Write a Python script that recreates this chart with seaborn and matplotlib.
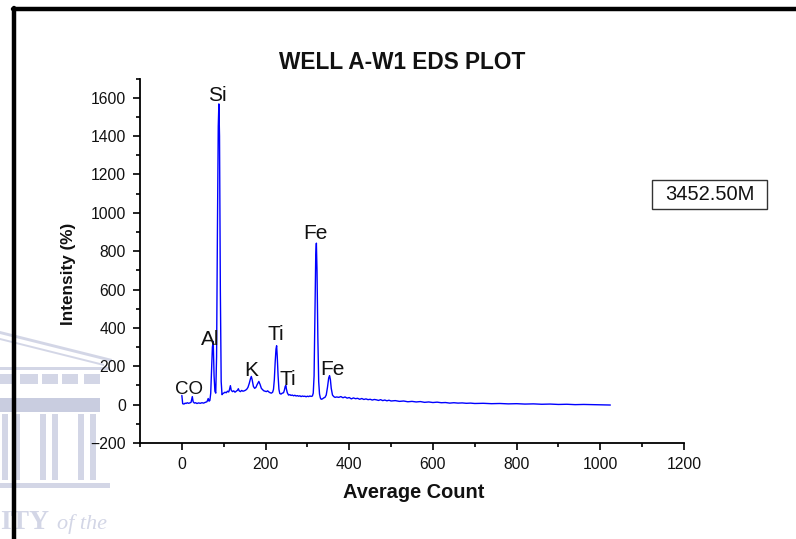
import numpy as np
import pandas as pd
import seaborn as sns
import matplotlib.pyplot as plt
from matplotlib.lines import Line2D
from matplotlib.patches import Rectangle, Polygon
from matplotlib.ticker import MultipleLocator

# EDS spectrum: channel (average count) vs intensity
channel = [
    0, 2, 5, 8, 10, 13, 16, 19, 22, 25, 27, 30, 33, 36, 40, 44, 48, 52, 56, 60,
    63, 65, 67, 69, 71, 73, 75, 77, 79, 81, 83, 85, 87, 88.5, 90, 92, 94, 96, 98, 100,
    103, 106, 109, 112, 114, 116, 118, 121, 124, 127, 130, 133, 135, 137, 140, 143, 146, 149, 152, 155,
    158, 161, 164, 166, 168, 171, 174, 177, 180, 184, 187, 190, 193, 196, 199, 202, 205, 208, 211, 214,
    217, 219, 221, 223, 225, 226.5, 228, 230, 232, 234, 237, 240, 243, 245, 247, 248.5, 250, 252, 255, 258,
    261, 264, 267, 270, 273, 276, 279, 282, 285, 288, 291, 294, 297, 300, 303, 306, 309, 312, 314, 316,
    318, 320, 321.5, 323, 325, 327, 329, 331, 333, 336, 339, 342, 345, 348, 351, 353, 355, 357, 360, 363,
    366, 370, 375, 380, 385, 390, 395, 400, 405, 410, 415, 420, 425, 430, 435, 440, 445, 450, 455, 460,
    465, 470, 475, 480, 485, 490, 495, 500, 510, 520, 530, 540, 550, 560, 570, 580, 590, 600, 610, 620,
    630, 640, 650, 660, 670, 680, 690, 700, 720, 740, 760, 780, 800, 820, 840, 860, 880, 900, 920, 940,
    960, 980, 1000, 1024,
]
intensity = [
    48, 5, 3, 8, 6, 10, 7, 9, 12, 42, 15, 8, 10, 6, 9, 7, 10, 8, 12, 15,
    32, 18, 22, 60, 180, 300, 330, 150, 70, 60, 250, 900, 1450, 1568, 1400, 600, 120, 52, 58, 60,
    65, 62, 70, 66, 80, 99, 75, 68, 72, 65, 70, 75, 83, 72, 68, 74, 70, 72, 75, 80,
    90, 110, 135, 147, 130, 95, 85, 90, 105, 121, 105, 85, 78, 72, 70, 68, 72, 66, 62, 60,
    65, 80, 130, 220, 290, 307, 250, 150, 80, 58, 55, 60, 62, 75, 95, 100, 80, 62, 50, 52,
    48, 50, 46, 49, 45, 47, 44, 46, 42, 45, 43, 44, 41, 44, 42, 45, 43, 45, 60, 150,
    450, 780, 842, 700, 350, 120, 55, 35, 28, 30, 35, 38, 50, 90, 140, 151, 130, 85, 50, 42,
    38, 40, 38, 42, 36, 40, 34, 37, 30, 35, 31, 33, 28, 32, 27, 30, 26, 28, 24, 27,
    25, 22, 26, 21, 24, 20, 23, 19, 21, 17, 19, 15, 17, 14, 16, 12, 14, 11, 13, 10,
    11, 8, 10, 8, 9, 7, 8, 6, 7, 5, 6, 4, 5, 3, 4, 2, 3, 1, 2, 0,
    1, 0, -1, -2,
]

# Element labels placed over the peaks (x, baseline y in data units)
labels = ["Si", "Al", "K", "Ti", "Ti", "Fe", "Fe", "CO"]
label_x = [85, 67, 165, 225, 254, 320, 361, 17]
label_y = [1583, 312, 151, 338, 104, 865, 156, 57]
label_size = [15, 15, 15, 15, 15, 15, 15, 13.5]

df = pd.DataFrame({"Average Count": channel, "Intensity": intensity})

sns.set_style("white")
plt.rcParams["font.family"] = ["Liberation Sans", "DejaVu Sans"]

W, H = 796, 539
fig = plt.figure(figsize=(W / 100, H / 100), dpi=100)
ax = fig.add_axes([140 / W, 1 - 443 / H, (684 - 140) / W, (443 - 78.6) / H])

sns.lineplot(data=df, x="Average Count", y="Intensity", ax=ax,
             color="#0000ff", linewidth=1.0, estimator=None, sort=False)

ax.set_xlim(-100, 1200)
ax.set_ylim(-200, 1700)
ax.xaxis.set_major_locator(MultipleLocator(200))
ax.xaxis.set_minor_locator(MultipleLocator(100))
ax.yaxis.set_major_locator(MultipleLocator(200))
ax.yaxis.set_minor_locator(MultipleLocator(100))
ax.tick_params(which="major", direction="out", length=5, width=1.2, color="black",
               labelsize=11.3, left=True, bottom=True, pad=5, labelcolor="#111111")
ax.tick_params(which="minor", direction="out", length=3, width=1.2, color="black",
               left=True, bottom=True)
for side in ("top", "right"):
    ax.spines[side].set_visible(False)
for side in ("left", "bottom"):
    ax.spines[side].set_color("black")
    ax.spines[side].set_linewidth(1.3)

ax.set_xlabel("Average Count", fontsize=14.4, fontweight="bold", color="#111111")
ax.xaxis.set_label_coords(0.503, -0.11)
ax.set_ylabel("Intensity (%)", fontsize=12.3, fontweight="bold", color="#111111")
ax.yaxis.set_label_coords(-0.118, 0.465)
fig.text(402 / W, 1 - 69 / H, "WELL A-W1 EDS PLOT", ha="center", va="baseline",
         fontsize=16.3, fontweight="bold", color="#111111")

for t, lx, ly, fs in zip(labels, label_x, label_y, label_size):
    ax.text(lx, ly, t, ha="center", va="baseline", fontsize=fs, color="#111111")

# depth annotation box
def px(x, y):
    return (x / W, 1 - y / H)
fig.add_artist(Rectangle(px(652, 209), 115 / W, 29 / H, facecolor="white",
                         edgecolor="#333333", linewidth=1.0, zorder=3))
fig.text(709.5 / W, 1 - 194.5 / H, "3452.50M", ha="center", va="center",
         fontsize=14.5, color="#111111", zorder=4)

# faint crest in the lower left corner
crest = "#d3d6e6"
fig.add_artist(Polygon([px(0, 331), px(112, 359), px(112, 362), px(0, 334)],
                       closed=True, facecolor=crest, edgecolor="none", zorder=0))
fig.add_artist(Polygon([px(0, 338), px(104, 364), px(104, 366), px(0, 340)],
                       closed=True, facecolor=crest, edgecolor="none", zorder=0))
fig.add_artist(Rectangle(px(0, 370), 110 / W, 3 / H, facecolor=crest, edgecolor="none", zorder=0))
for x0, x1 in [(0, 14), (20, 38), (42, 58), (62, 78), (84, 100)]:
    fig.add_artist(Rectangle(px(x0, 384), (x1 - x0) / W, 10 / H, facecolor=crest,
                             edgecolor="none", zorder=0))
fig.add_artist(Rectangle(px(0, 412), 100 / W, 14 / H, facecolor="#c9cde0", edgecolor="none", zorder=0))
for cx in (2, 14, 40, 52, 78, 90):
    fig.add_artist(Rectangle(px(cx, 480), 6 / W, 66 / H, facecolor=crest, edgecolor="none", zorder=0))
fig.add_artist(Rectangle(px(0, 488), 110 / W, 5 / H, facecolor=crest, edgecolor="none", zorder=0))
fig.text(0 / W, 1 - 529 / H, "ITY", fontsize=20, fontweight="bold", family="Liberation Serif",
         color=crest, zorder=0)
fig.text(57 / W, 1 - 529 / H, "of the", fontsize=16, style="italic", family="Liberation Serif",
         color=crest, zorder=0)

# page frame lines
fig.add_artist(Line2D([13 / W, 1.0], [1 - 9 / H, 1 - 9 / H], color="black", linewidth=3.2))
fig.add_artist(Line2D([14 / W, 14 / W], [1 - 8 / H, 0.0], color="black", linewidth=3.2))

fig.savefig("out.png", dpi=100)
